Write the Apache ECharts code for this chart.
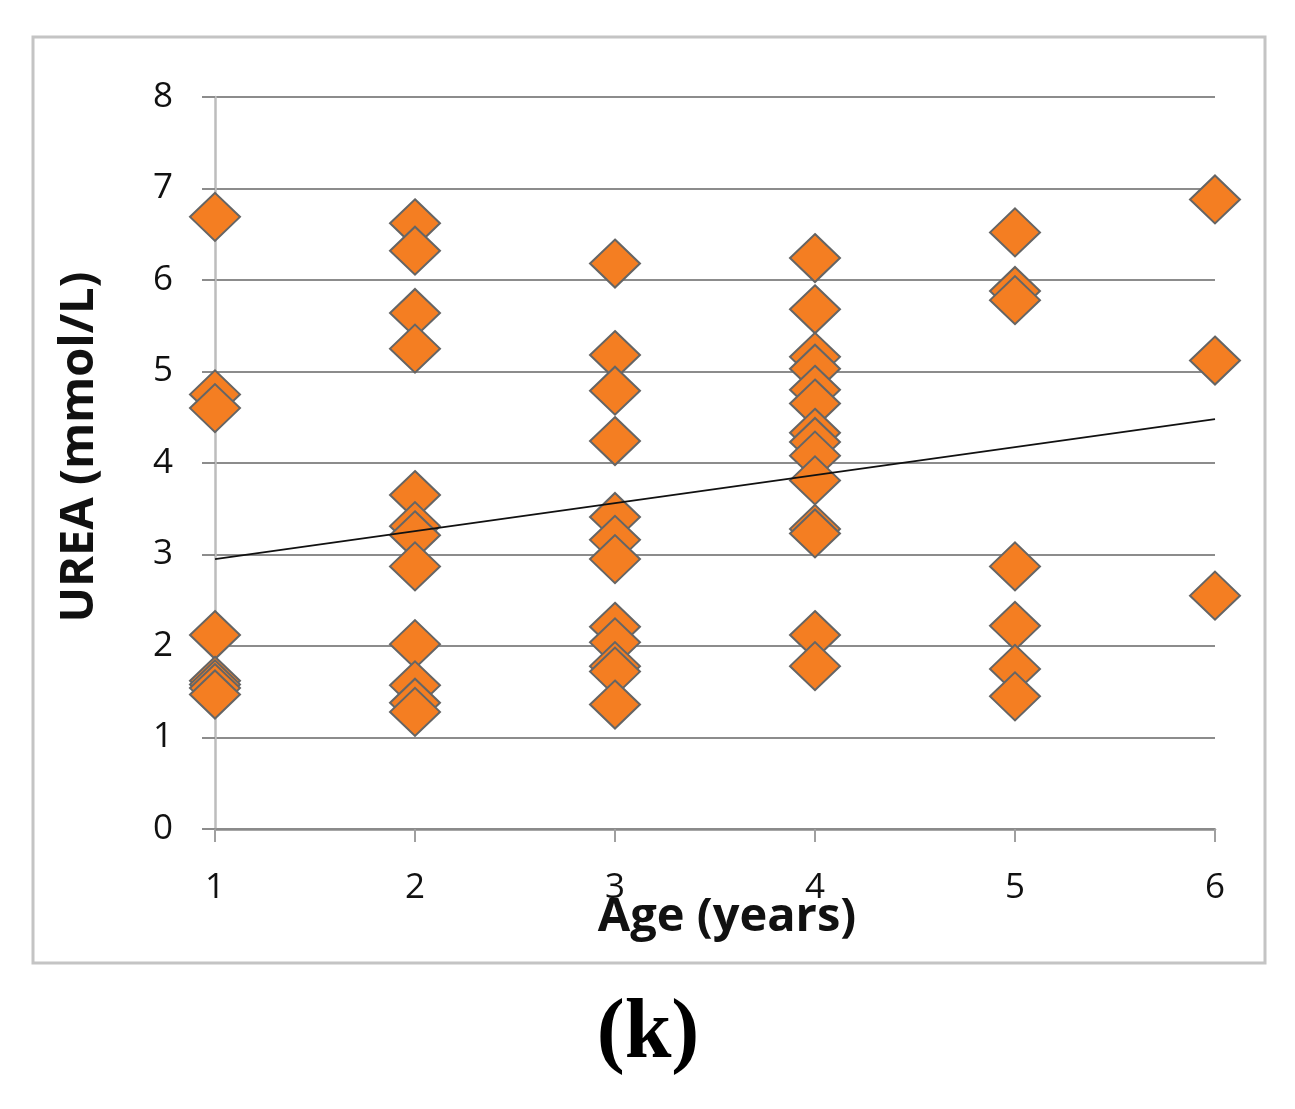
<!DOCTYPE html>
<html>
<head>
<meta charset="utf-8">
<script src="https://cdn.jsdelivr.net/npm/echarts@6/dist/echarts.min.js"></script>
<style>
html,body{margin:0;padding:0;background:#fff;}
#chart{width:1295px;height:1109px;}
</style>
</head>
<body>
<div id="chart"></div>
<script>
// Data
var ages = [
  1,1,1,1,1,1,1,1,
  2,2,2,2,2,2,2,2,2,2,2,2,
  3,3,3,3,3,3,3,3,3,3,3,3,
  4,4,4,4,4,4,4,4,4,4,4,4,4,4,
  5,5,5,5,5,5,5,
  6,6,6
];
var urea = [
  6.69,4.75,4.60,2.12,1.62,1.58,1.54,1.47,
  6.62,6.32,5.64,5.25,3.65,3.31,3.21,2.87,2.02,1.57,1.38,1.28,
  6.18,5.18,4.79,4.24,3.41,3.16,2.95,2.21,2.04,1.78,1.72,1.36,
  6.24,5.68,5.16,5.03,4.80,4.65,4.33,4.23,4.08,3.81,3.28,3.23,2.12,1.78,
  6.52,5.88,5.78,2.87,2.22,1.75,1.45,
  6.88,5.12,2.55
];
var trendX = [1, 6];
var trendY = [2.95, 4.48];
var xTitle = 'Age (years)';
var yTitle = 'UREA (mmol/L)';
var panelLabel = '(k)';

var points = ages.map(function(a, i){ return [a, urea[i]]; });
var trend = trendX.map(function(x, i){ return [x, trendY[i]]; });

var chart = echarts.init(document.getElementById('chart'));
chart.setOption({
  animation: false,
  backgroundColor: '#ffffff',
  grid: {left: 215, right: 80, top: 97, bottom: 280, containLabel: false},
  xAxis: {
    type: 'value', min: 1, max: 6, interval: 1,
    axisLine: {show: true, lineStyle: {color: '#8a8a8a', width: 2.5}},
    axisTick: {show: true, length: 13, lineStyle: {color: '#a0a0a0', width: 2}},
    axisLabel: {color: '#111', fontSize: 35, fontFamily: 'Open Sans', margin: 42},
    splitLine: {show: false}
  },
  yAxis: {
    type: 'value', min: 0, max: 8, interval: 1,
    axisLine: {show: true, lineStyle: {color: '#bdbdbd', width: 2.5}},
    axisTick: {show: true, length: 13, lineStyle: {color: '#8c8c8c', width: 2}},
    axisLabel: {color: '#111', fontSize: 35, fontFamily: 'Open Sans', margin: 42},
    splitLine: {show: true, lineStyle: {color: '#8c8c8c', width: 2}}
  },
  series: [
    {
      type: 'scatter',
      data: points,
      symbol: 'diamond',
      symbolSize: [50, 48],
      itemStyle: {color: '#F47E22', borderColor: '#656565', borderWidth: 2, opacity: 1},
      z: 2
    },
    {
      type: 'line',
      data: trend,
      symbol: 'none',
      lineStyle: {color: '#111', width: 1.8},
      z: 5
    }
  ],
  graphic: [
    {
      type: 'rect', z: -1,
      shape: {x: 33, y: 37, width: 1232, height: 926},
      style: {fill: 'none', stroke: '#c4c4c4', lineWidth: 3}
    },
    {
      type: 'text', x: 727, y: 918,
      style: {text: xTitle, font: 'bold 47px "Open Sans"', fill: '#111', textAlign: 'center', textVerticalAlign: 'middle'}
    },
    {
      type: 'text', x: 80, y: 447, rotation: Math.PI / 2,
      style: {text: yTitle, font: 'bold 47px "Open Sans"', fill: '#111', textAlign: 'center', textVerticalAlign: 'middle'}
    },
    {
      type: 'text', x: 648, y: 1035,
      style: {text: panelLabel, font: 'bold 84px "Liberation Serif"', fill: '#000', textAlign: 'center', textVerticalAlign: 'middle'}
    }
  ]
});
</script>
</body>
</html>
